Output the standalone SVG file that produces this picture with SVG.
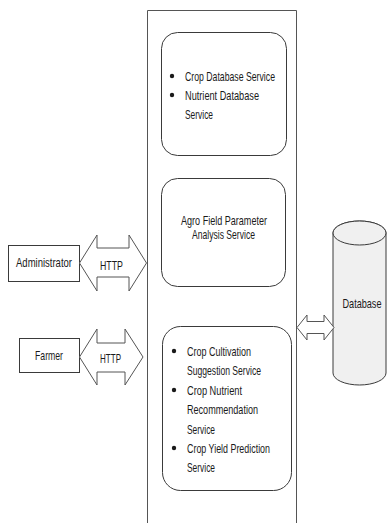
<svg xmlns="http://www.w3.org/2000/svg" width="388" height="523" viewBox="0 0 388 523">
  <style>
    .box { fill: #ffffff; stroke: #3a3a3a; stroke-width: 1; }
    .frame { fill: none; stroke: #555555; stroke-width: 1; }
    .arrow { fill: #ffffff; stroke: #555555; stroke-width: 1; stroke-linejoin: miter; }
    .db { fill: #f0f0f0; stroke: #3a3a3a; stroke-width: 1; }
    .t { font-family: "Liberation Sans", Arial, sans-serif; font-size: 13px; fill: #1a1a1a; }
    .dot { fill: #1a1a1a; }
  </style>
  <rect width="388" height="523" fill="#ffffff"/>

  <!-- server container, runs off the bottom edge -->
  <g id="server">
    <path class="frame" d="M147.5,540 V10.5 H296.5 V540"/>
  </g>

  <g id="db-services">
    <rect class="box" x="161.5" y="32.5" width="125" height="123" rx="16" ry="16"/>
    <circle class="dot" cx="172" cy="76" r="2.2"/>
    <circle class="dot" cx="172" cy="95" r="2.2"/>
    <text class="t" x="185" y="80.5" textLength="90" lengthAdjust="spacingAndGlyphs">Crop Database Service</text>
    <text class="t" x="185" y="99.5" textLength="74" lengthAdjust="spacingAndGlyphs">Nutrient Database</text>
    <text class="t" x="185" y="118.5" textLength="28" lengthAdjust="spacingAndGlyphs">Service</text>
  </g>

  <g id="analysis-service">
    <rect class="box" x="161.5" y="178.5" width="124" height="108" rx="16" ry="16"/>
    <text class="t" x="181" y="224.5" textLength="86" lengthAdjust="spacingAndGlyphs">Agro Field Parameter</text>
    <text class="t" x="192" y="238.5" textLength="63" lengthAdjust="spacingAndGlyphs">Analysis Service</text>
  </g>

  <g id="farmer-services">
    <rect class="box" x="162.5" y="326.5" width="129" height="164" rx="18" ry="18"/>
    <circle class="dot" cx="174" cy="351" r="2.2"/>
    <circle class="dot" cx="174" cy="390" r="2.2"/>
    <circle class="dot" cx="174" cy="448" r="2.2"/>
    <text class="t" x="187" y="355.5" textLength="64" lengthAdjust="spacingAndGlyphs">Crop Cultivation</text>
    <text class="t" x="187" y="374.5" textLength="74" lengthAdjust="spacingAndGlyphs">Suggestion Service</text>
    <text class="t" x="187" y="394.5" textLength="55" lengthAdjust="spacingAndGlyphs">Crop Nutrient</text>
    <text class="t" x="187" y="413.5" textLength="71" lengthAdjust="spacingAndGlyphs">Recommendation</text>
    <text class="t" x="187" y="433.5" textLength="28" lengthAdjust="spacingAndGlyphs">Service</text>
    <text class="t" x="187" y="452.5" textLength="83" lengthAdjust="spacingAndGlyphs">Crop Yield Prediction</text>
    <text class="t" x="187" y="471.5" textLength="28" lengthAdjust="spacingAndGlyphs">Service</text>
  </g>

  <g id="administrator">
    <rect class="box" x="8.5" y="245.5" width="71" height="36"/>
    <text class="t" x="16" y="266.5" textLength="56" lengthAdjust="spacingAndGlyphs">Administrator</text>
  </g>

  <g id="farmer">
    <rect class="box" x="19.5" y="338.5" width="60" height="34"/>
    <text class="t" x="35" y="359.5" textLength="28" lengthAdjust="spacingAndGlyphs">Farmer</text>
  </g>

  <g id="database">
    <path class="db" d="M333,233 V373 A26.5,12 0 0 0 386,373 V233 A26.5,12 0 0 0 333,233 Z"/>
    <ellipse class="db" cx="359.5" cy="233" rx="26.5" ry="12"/>
    <text class="t" x="362" y="307.5" text-anchor="middle" font-size="12" textLength="39" lengthAdjust="spacingAndGlyphs">Database</text>
  </g>

  <!-- two-way links -->
  <g id="connectors">
    <polygon class="arrow" points="79.5,263 97,235 97,248 129,248 129,235 146.5,263 129,291 129,277 97,277 97,291"/>
    <text class="t" x="100" y="269.5" textLength="23" lengthAdjust="spacingAndGlyphs">HTTP</text>
    <polygon class="arrow" points="79.5,357 97,329 97,343 125,343 125,329 143,357 125,385 125,372 97,372 97,385"/>
    <text class="t" x="100" y="362.5" textLength="21" lengthAdjust="spacingAndGlyphs">HTTP</text>
    <polygon class="arrow" points="297,327.5 307,315 307,321.5 324,321.5 324,315 334,327.5 324,340 324,333.5 307,333.5 307,340"/>
  </g>
</svg>
